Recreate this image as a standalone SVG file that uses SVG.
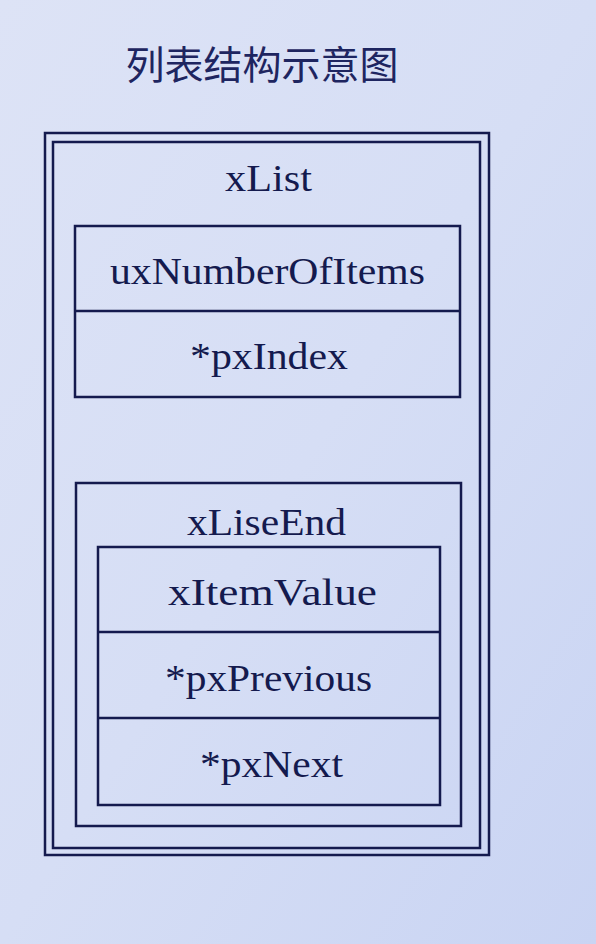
<svg xmlns="http://www.w3.org/2000/svg" width="596" height="944" viewBox="0 0 596 944">
<defs>
<linearGradient id="bg" x1="0" y1="0" x2="1" y2="1">
<stop offset="0" stop-color="#dde3f6"/>
<stop offset="0.5" stop-color="#d6def5"/>
<stop offset="1" stop-color="#c9d4f3"/>
</linearGradient>
</defs>
<style>
.b{fill:none;stroke:#141a4e;stroke-width:2.5}
.t{font-family:"Liberation Serif",serif;fill:#141a4e;text-anchor:middle;font-size:38px}
.title{font-family:"Noto Sans CJK SC",sans-serif;fill:#1e2560;font-size:39px;text-anchor:middle}
</style>
<rect width="596" height="944" fill="url(#bg)"/>
<text class="title" x="262" y="79">列表结构示意图</text>
<g id="xList">
<rect class="b" x="45" y="133" width="444" height="722" stroke-width="3"/>
<rect class="b" x="53" y="142" width="427" height="706"/>
<text class="t" x="268.5" y="191" textLength="87" lengthAdjust="spacingAndGlyphs">xList</text>
</g>
<g id="listFields">
<rect class="b" x="75" y="226" width="385" height="171" fill="#e0e6f7"/>
<line class="b" x1="75" y1="311" x2="460" y2="311"/>
<text class="t" x="267.5" y="284" textLength="315" lengthAdjust="spacingAndGlyphs">uxNumberOfItems</text>
<text class="t" x="269" y="369" textLength="158" lengthAdjust="spacingAndGlyphs">*pxIndex</text>
</g>
<g id="xLiseEnd">
<rect class="b" x="76" y="483" width="385" height="343"/>
<text class="t" x="266.5" y="535" textLength="159" lengthAdjust="spacingAndGlyphs">xLiseEnd</text>
<rect class="b" x="98" y="547" width="342" height="258" fill="#e0e6f7"/>
<line class="b" x1="98" y1="632" x2="440" y2="632"/>
<line class="b" x1="98" y1="718" x2="440" y2="718"/>
<text class="t" x="272.5" y="605" textLength="209" lengthAdjust="spacingAndGlyphs">xItemValue</text>
<text class="t" x="268.5" y="691" textLength="207" lengthAdjust="spacingAndGlyphs">*pxPrevious</text>
<text class="t" x="271.5" y="777" textLength="143" lengthAdjust="spacingAndGlyphs">*pxNext</text>
</g>
</svg>
